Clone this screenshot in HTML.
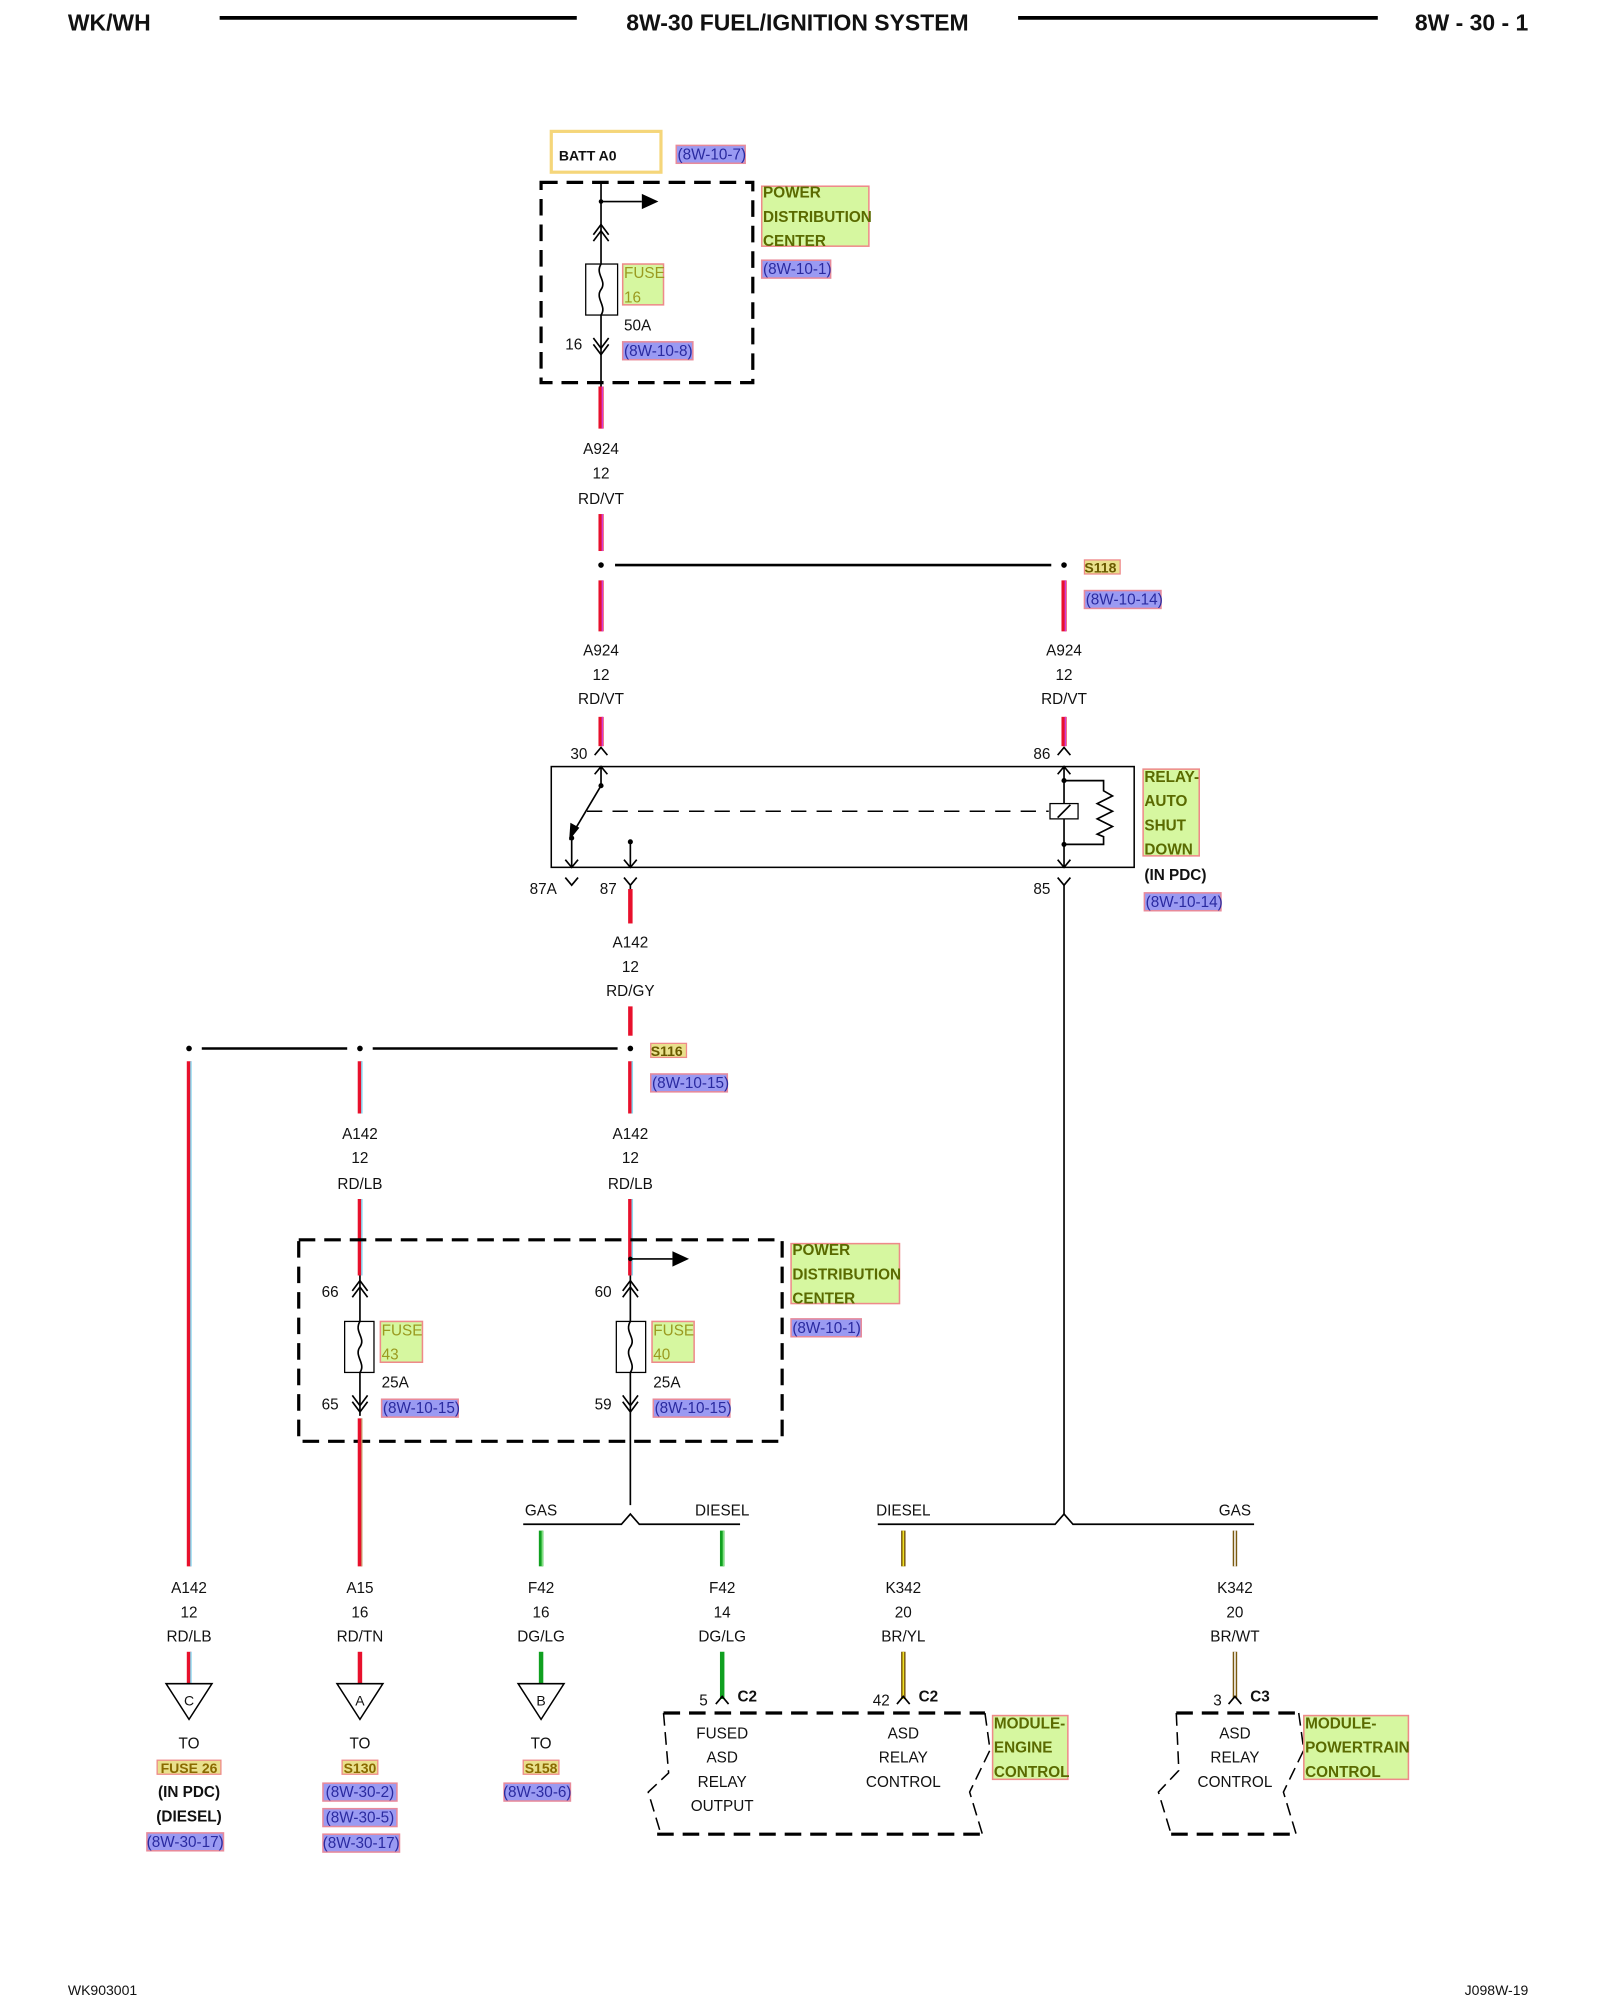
<!DOCTYPE html>
<html><head><meta charset="utf-8"><style>
html,body{margin:0;padding:0;background:#fff;}
svg{display:block}
text{font-family:"Liberation Sans",sans-serif;font-size:12px;fill:#111}
.c{text-anchor:middle}
.b{font-weight:bold}
.g{fill:#d6f7a0;stroke:#ee8a8a;stroke-width:1.2}
.gt{fill:#5a6a00;font-weight:bold}
.bl{fill:#9a9af2;stroke:#e88a9a;stroke-width:1.2}
.bt{fill:#2a2aa0}
.y{fill:#e9e08c;stroke:#ee8a8a;stroke-width:1}
.w{stroke:#000;stroke-width:1.3;fill:none}
.d{stroke:#000;stroke-width:2.5;fill:none;stroke-dasharray:13 7}
</style></head><body>
<svg width="1600" height="2000" viewBox="0 0 1254 1568" xmlns="http://www.w3.org/2000/svg">
<!-- header -->
<text x="53" y="24" class="b" style="font-size:18px">WK/WH</text>
<line x1="172" y1="14" x2="452" y2="14" stroke="#000" stroke-width="3"/>
<text x="625" y="24" class="b c" style="font-size:18px">8W-30 FUEL/IGNITION SYSTEM</text>
<line x1="798" y1="14" x2="1080" y2="14" stroke="#000" stroke-width="3"/>
<text x="1198" y="24" class="b" style="font-size:18px;text-anchor:end">8W - 30 - 1</text>

<!-- BATT -->
<rect x="432" y="103" width="86" height="32" fill="none" stroke="#f5d67a" stroke-width="2.5"/>
<text x="438" y="126" class="b" style="font-size:11px">BATT A0</text>
<rect x="530" y="114" width="54" height="14" class="bl"/><text x="531" y="125" class="bt">(8W-10-7)</text>

<!-- PDC 1 -->
<rect x="424" y="143" width="166" height="157" class="d"/>
<line x1="471" y1="143" x2="471" y2="303" class="w"/>
<circle cx="471" cy="158" r="1.8"/><line x1="471" y1="158" x2="503" y2="158" class="w"/>
<path d="M503 152 L516 158 L503 164Z"/>
<path d="M465 184 L471 176 L477 184 M465 189 L471 181 L477 189" class="w"/>
<rect x="459" y="207" width="25" height="40" fill="#fff" stroke="#000" stroke-width="1"/>
<path d="M471 207 C466 215,476 220,471 227 C466 234,476 240,471 247" class="w"/>
<rect x="488" y="207" width="32" height="32" class="g"/>
<text x="489" y="218" style="fill:#9a9a20">FUSE</text><text x="489" y="237" style="fill:#9a9a20">16</text>
<text x="489" y="259">50A</text><text x="443" y="274">16</text>
<path d="M465 265 L471 273 L477 265 M465 270 L471 278 L477 270" class="w"/>
<rect x="488" y="268" width="55" height="14" class="bl"/><text x="489" y="279" class="bt">(8W-10-8)</text>
<rect x="597" y="146" width="84" height="47" class="g"/>
<text x="598" y="155" class="gt">POWER</text><text x="598" y="174" class="gt">DISTRIBUTION</text><text x="598" y="193" class="gt">CENTER</text>
<rect x="597" y="204" width="54" height="14" class="bl"/><text x="598" y="215" class="bt">(8W-10-1)</text>

<!-- RD/VT wires -->
<g stroke-width="4">
<line x1="471" y1="303" x2="471" y2="336" stroke="#e8102c"/>
<line x1="471" y1="403" x2="471" y2="432" stroke="#e8102c"/>
<line x1="471" y1="455" x2="471" y2="495" stroke="#e8102c"/>
<line x1="834" y1="455" x2="834" y2="495" stroke="#e8102c"/>
<line x1="471" y1="562" x2="471" y2="585" stroke="#e8102c"/>
<line x1="834" y1="562" x2="834" y2="585" stroke="#e8102c"/>
</g>
<g stroke="#d040e0" stroke-width="1">
<line x1="472" y1="303" x2="472" y2="336"/><line x1="472" y1="403" x2="472" y2="432"/>
<line x1="472" y1="455" x2="472" y2="495"/><line x1="835" y1="455" x2="835" y2="495"/>
<line x1="472" y1="562" x2="472" y2="585"/><line x1="835" y1="562" x2="835" y2="585"/>
</g>
<text x="471" y="356" class="c">A924</text><text x="471" y="375" class="c">12</text><text x="471" y="395" class="c">RD/VT</text>
<circle cx="471" cy="443" r="2.2"/><circle cx="834" cy="443" r="2.2"/>
<line x1="482" y1="443" x2="824" y2="443" stroke="#000" stroke-width="2"/>
<rect x="850" y="439" width="28" height="11" class="y"/><text x="850" y="449" class="b" style="font-size:11px;fill:#6a5a00">S118</text>
<rect x="850" y="463" width="60" height="14" class="bl"/><text x="851" y="474" class="bt">(8W-10-14)</text>
<text x="471" y="514" class="c">A924</text><text x="471" y="533" class="c">12</text><text x="471" y="552" class="c">RD/VT</text>
<text x="834" y="514" class="c">A924</text><text x="834" y="533" class="c">12</text><text x="834" y="552" class="c">RD/VT</text>

<!-- relay -->
<path d="M466 592 L471 586 L476 592 M829 592 L834 586 L839 592" class="w"/>
<text x="447" y="595">30</text><text x="810" y="595">86</text>
<rect x="432" y="601" width="457" height="79" fill="none" stroke="#000" stroke-width="1.2"/>
<path d="M471 601 L471 616 M466 607 L471 601 L476 607" class="w"/>
<circle cx="471" cy="616" r="2"/>
<line x1="471" y1="616" x2="449" y2="653" class="w"/><path d="M446 659 L447 645 L454 649Z"/>
<circle cx="448" cy="657" r="2"/>
<path d="M448 657 L448 680 M443 674 L448 680 L453 674" class="w"/>
<circle cx="494" cy="660" r="2"/>
<path d="M494 660 L494 680 M489 674 L494 680 L499 674" class="w"/>
<line x1="460" y1="636" x2="822" y2="636" stroke="#000" stroke-width="1.2" stroke-dasharray="12 8"/>
<path d="M834 601 L834 680 M829 607 L834 601 L839 607 M829 674 L834 680 L839 674" class="w"/>
<rect x="823" y="630" width="22" height="12" fill="#fff" stroke="#000" stroke-width="1"/>
<line x1="829" y1="641" x2="839" y2="631" class="w"/>
<circle cx="834" cy="612" r="2"/><circle cx="834" cy="662" r="2"/>
<path d="M834 612 L865 612 L865 620 L872 624 L860 630 L872 636 L860 642 L872 648 L860 654 L865 656 L865 662 L834 662" class="w"/>
<rect x="896" y="603" width="44" height="68" class="g"/>
<text x="897" y="613" class="gt">RELAY-</text><text x="897" y="632" class="gt">AUTO</text><text x="897" y="651" class="gt">SHUT</text><text x="897" y="670" class="gt">DOWN</text>
<text x="897" y="690" class="b">(IN PDC)</text>
<rect x="897" y="700" width="60" height="14" class="bl"/><text x="898" y="711" class="bt">(8W-10-14)</text>
<path d="M443 688 L448 694 L453 688 M489 688 L494 694 L499 688 M494 694 L494 700 M829 688 L834 694 L839 688" class="w"/>
<text x="415" y="701">87A</text><text x="470" y="701">87</text><text x="810" y="701">85</text>
<line x1="834" y1="694" x2="834" y2="1187" class="w"/>

<!-- A142 RD/GY -->
<line x1="494" y1="697" x2="494" y2="724" stroke="#e8102c" stroke-width="3.5"/>
<line x1="494" y1="789" x2="494" y2="812" stroke="#e8102c" stroke-width="3.5"/>
<text x="494" y="743" class="c">A142</text><text x="494" y="762" class="c">12</text><text x="494" y="781" class="c">RD/GY</text>
<circle cx="494" cy="822" r="2.2"/><circle cx="282" cy="822" r="2.2"/><circle cx="148" cy="822" r="2.2"/>
<line x1="158" y1="822" x2="272" y2="822" stroke="#000" stroke-width="2"/>
<line x1="292" y1="822" x2="484" y2="822" stroke="#000" stroke-width="2"/>
<rect x="510" y="818" width="28" height="11" class="y"/><text x="510" y="828" class="b" style="font-size:11px;fill:#6a5a00">S116</text>
<rect x="510" y="842" width="60" height="14" class="bl"/><text x="511" y="853" class="bt">(8W-10-15)</text>

<!-- RD/LB wires -->
<g stroke="#e8102c" stroke-width="3.5">
<line x1="148" y1="832" x2="148" y2="1228"/>
<line x1="282" y1="832" x2="282" y2="873"/><line x1="494" y1="832" x2="494" y2="873"/>
<line x1="282" y1="940" x2="282" y2="1000"/><line x1="494" y1="940" x2="494" y2="1000"/>
<line x1="148" y1="1295" x2="148" y2="1320"/>
</g>
<g stroke="#8ad8f0" stroke-width="1.2">
<line x1="149.5" y1="832" x2="149.5" y2="1228"/>
<line x1="283.5" y1="832" x2="283.5" y2="873"/><line x1="495.5" y1="832" x2="495.5" y2="873"/>
<line x1="283.5" y1="940" x2="283.5" y2="1000"/><line x1="495.5" y1="940" x2="495.5" y2="1000"/>
<line x1="149.5" y1="1295" x2="149.5" y2="1320"/>
</g>
<text x="282" y="893" class="c">A142</text><text x="282" y="912" class="c">12</text><text x="282" y="932" class="c">RD/LB</text>
<text x="494" y="893" class="c">A142</text><text x="494" y="912" class="c">12</text><text x="494" y="932" class="c">RD/LB</text>

<!-- PDC 2 -->
<rect x="234" y="972" width="379" height="158" class="d"/>
<rect x="620" y="975" width="85" height="47" class="g"/>
<text x="621" y="984" class="gt">POWER</text><text x="621" y="1003" class="gt">DISTRIBUTION</text><text x="621" y="1022" class="gt">CENTER</text>
<rect x="620" y="1034" width="55" height="14" class="bl"/><text x="621" y="1045" class="bt">(8W-10-1)</text>
<line x1="282" y1="1000" x2="282" y2="1110" class="w"/>
<line x1="494" y1="1000" x2="494" y2="1180" class="w"/>
<circle cx="494" cy="987" r="1.8"/><line x1="494" y1="987" x2="527" y2="987" class="w"/><path d="M527 981 L540 987 L527 993Z"/>
<path d="M276 1012 L282 1004 L288 1012 M276 1017 L282 1009 L288 1017 M488 1012 L494 1004 L500 1012 M488 1017 L494 1009 L500 1017" class="w"/>
<path d="M276 1094 L282 1102 L288 1094 M276 1099 L282 1107 L288 1099 M488 1094 L494 1102 L500 1094 M488 1099 L494 1107 L500 1099" class="w"/>
<rect x="270" y="1036" width="23" height="40" fill="#fff" stroke="#000" stroke-width="1"/>
<path d="M282 1036 C277 1044,287 1049,282 1056 C277 1063,287 1069,282 1076" class="w"/>
<rect x="483" y="1036" width="23" height="40" fill="#fff" stroke="#000" stroke-width="1"/>
<path d="M494 1036 C489 1044,499 1049,494 1056 C489 1063,499 1069,494 1076" class="w"/>
<rect x="298" y="1036" width="33" height="32" class="g"/><text x="299" y="1047" style="fill:#9a9a20">FUSE</text><text x="299" y="1066" style="fill:#9a9a20">43</text>
<rect x="511" y="1036" width="33" height="32" class="g"/><text x="512" y="1047" style="fill:#9a9a20">FUSE</text><text x="512" y="1066" style="fill:#9a9a20">40</text>
<text x="252" y="1017">66</text><text x="466" y="1017">60</text>
<text x="299" y="1088">25A</text><text x="512" y="1088">25A</text>
<text x="252" y="1105">65</text><text x="466" y="1105">59</text>
<rect x="299" y="1097" width="60" height="14" class="bl"/><text x="300" y="1108" class="bt">(8W-10-15)</text>
<rect x="512" y="1097" width="60" height="14" class="bl"/><text x="513" y="1108" class="bt">(8W-10-15)</text>
<!-- RD/TN -->
<line x1="282" y1="1112" x2="282" y2="1228" stroke="#e8102c" stroke-width="3.5"/>
<line x1="282" y1="1295" x2="282" y2="1320" stroke="#e8102c" stroke-width="3.5"/>
<line x1="283.5" y1="1112" x2="283.5" y2="1228" stroke="#c8a070" stroke-width="1"/>

<!-- splits -->
<path d="M410 1195 L487 1195 L494 1187 L501 1195 L580 1195" class="w"/>
<path d="M688 1195 L827 1195 L834 1187 L841 1195 L983 1195" class="w"/>
<text x="424" y="1188" class="c">GAS</text><text x="566" y="1188" class="c">DIESEL</text>
<text x="708" y="1188" class="c">DIESEL</text><text x="968" y="1188" class="c">GAS</text>
<g stroke-width="3.5">
<line x1="424" y1="1200" x2="424" y2="1228" stroke="#10a020"/><line x1="566" y1="1200" x2="566" y2="1228" stroke="#10a020"/>
<line x1="424" y1="1295" x2="424" y2="1320" stroke="#10a020"/><line x1="566" y1="1295" x2="566" y2="1332" stroke="#10a020"/>
<line x1="708" y1="1200" x2="708" y2="1228" stroke="#7a5a10"/><line x1="708" y1="1295" x2="708" y2="1332" stroke="#7a5a10"/>
<line x1="968" y1="1200" x2="968" y2="1228" stroke="#7a5a10"/><line x1="968" y1="1295" x2="968" y2="1332" stroke="#7a5a10"/>
</g>
<g stroke-width="1.2">
<line x1="708" y1="1200" x2="708" y2="1228" stroke="#f0e020"/><line x1="708" y1="1295" x2="708" y2="1332" stroke="#f0e020"/>
<line x1="968" y1="1200" x2="968" y2="1228" stroke="#fff"/><line x1="968" y1="1295" x2="968" y2="1332" stroke="#fff"/>
<line x1="425" y1="1200" x2="425" y2="1228" stroke="#80e080"/><line x1="567" y1="1200" x2="567" y2="1228" stroke="#80e080"/>
</g>
<text x="148" y="1249" class="c">A142</text><text x="148" y="1268" class="c">12</text><text x="148" y="1287" class="c">RD/LB</text>
<text x="282" y="1249" class="c">A15</text><text x="282" y="1268" class="c">16</text><text x="282" y="1287" class="c">RD/TN</text>
<text x="424" y="1249" class="c">F42</text><text x="424" y="1268" class="c">16</text><text x="424" y="1287" class="c">DG/LG</text>
<text x="566" y="1249" class="c">F42</text><text x="566" y="1268" class="c">14</text><text x="566" y="1287" class="c">DG/LG</text>
<text x="708" y="1249" class="c">K342</text><text x="708" y="1268" class="c">20</text><text x="708" y="1287" class="c">BR/YL</text>
<text x="968" y="1249" class="c">K342</text><text x="968" y="1268" class="c">20</text><text x="968" y="1287" class="c">BR/WT</text>

<!-- triangles -->
<path d="M130 1320 L166 1320 L148 1348Z M264 1320 L300 1320 L282 1348Z M406 1320 L442 1320 L424 1348Z" fill="#fff" stroke="#000" stroke-width="1.2"/>
<text x="148" y="1337" class="c" style="font-size:11px">C</text><text x="282" y="1337" class="c" style="font-size:11px">A</text><text x="424" y="1337" class="c" style="font-size:11px">B</text>
<text x="148" y="1371" class="c">TO</text><text x="282" y="1371" class="c">TO</text><text x="424" y="1371" class="c">TO</text>
<rect x="123" y="1380" width="50" height="11" class="y"/><text x="148" y="1390" class="c b" style="font-size:11px;fill:#8a6a00">FUSE 26</text>
<text x="148" y="1409" class="c b">(IN PDC)</text><text x="148" y="1428" class="c b">(DIESEL)</text>
<rect x="115" y="1437" width="60" height="14" class="bl"/><text x="145" y="1448" class="c bt">(8W-30-17)</text>
<rect x="268" y="1380" width="28" height="11" class="y"/><text x="282" y="1390" class="c b" style="font-size:11px;fill:#8a6a00">S130</text>
<rect x="253" y="1398" width="58" height="14" class="bl"/><text x="282" y="1409" class="c bt">(8W-30-2)</text>
<rect x="253" y="1418" width="58" height="14" class="bl"/><text x="282" y="1429" class="c bt">(8W-30-5)</text>
<rect x="253" y="1438" width="60" height="14" class="bl"/><text x="283" y="1449" class="c bt">(8W-30-17)</text>
<rect x="410" y="1380" width="28" height="11" class="y"/><text x="424" y="1390" class="c b" style="font-size:11px;fill:#8a6a00">S158</text>
<rect x="395" y="1398" width="52" height="14" class="bl"/><text x="421" y="1409" class="c bt">(8W-30-6)</text>

<!-- modules -->
<path d="M561 1336 L566 1330 L571 1336 M703 1336 L708 1330 L713 1336 M963 1336 L968 1330 L973 1336" class="w"/>
<text x="548" y="1337">5</text><text x="578" y="1334" class="b">C2</text>
<text x="684" y="1337">42</text><text x="720" y="1334" class="b">C2</text>
<text x="951" y="1337">3</text><text x="980" y="1334" class="b">C3</text>
<path d="M520 1343 L772 1343 M515 1438 L770 1438" class="d"/>
<path d="M520 1343 L524 1390 L508 1405 L518 1438 M772 1343 L776 1372 L760 1405 L770 1438" fill="none" stroke="#000" stroke-width="1.2" stroke-dasharray="10 5"/>
<text x="566" y="1363" class="c">FUSED</text><text x="566" y="1382" class="c">ASD</text><text x="566" y="1401" class="c">RELAY</text><text x="566" y="1420" class="c">OUTPUT</text>
<text x="708" y="1363" class="c">ASD</text><text x="708" y="1382" class="c">RELAY</text><text x="708" y="1401" class="c">CONTROL</text>
<rect x="778" y="1345" width="59" height="50" class="g"/>
<text x="779" y="1355" class="gt">MODULE-</text><text x="779" y="1374" class="gt">ENGINE</text><text x="779" y="1393" class="gt">CONTROL</text>
<path d="M922 1343 L1018 1343 M918 1438 L1016 1438" class="d"/>
<path d="M922 1343 L924 1388 L908 1405 L918 1438 M1018 1343 L1022 1372 L1006 1405 L1016 1438" fill="none" stroke="#000" stroke-width="1.2" stroke-dasharray="10 5"/>
<text x="968" y="1363" class="c">ASD</text><text x="968" y="1382" class="c">RELAY</text><text x="968" y="1401" class="c">CONTROL</text>
<rect x="1022" y="1345" width="82" height="50" class="g"/>
<text x="1023" y="1355" class="gt">MODULE-</text><text x="1023" y="1374" class="gt">POWERTRAIN</text><text x="1023" y="1393" class="gt">CONTROL</text>

<!-- footer -->
<text x="53" y="1564" style="font-size:11px">WK903001</text>
<text x="1198" y="1564" style="font-size:11px;text-anchor:end">J098W-19</text>
</svg>
</body></html>
